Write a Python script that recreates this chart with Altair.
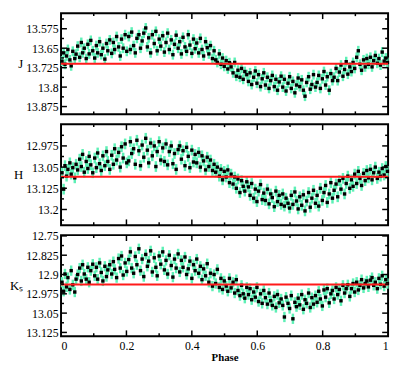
import altair as alt
import pandas as pd

# ---------------- data ----------------
phase = [
    0.003, 0.008, 0.012, 0.017, 0.021, 0.027, 0.031, 0.036, 0.042, 0.046,
    0.051, 0.057, 0.062, 0.066, 0.071, 0.077, 0.082, 0.086, 0.091, 0.097,
    0.103, 0.108, 0.112, 0.118, 0.123, 0.128, 0.134, 0.139, 0.143, 0.149,
    0.155, 0.160, 0.164, 0.170, 0.176, 0.181, 0.185, 0.190, 0.196, 0.201,
    0.207, 0.212, 0.216, 0.222, 0.227, 0.232, 0.238, 0.243, 0.248, 0.253,
    0.259, 0.264, 0.268, 0.274, 0.279, 0.285, 0.290, 0.294, 0.300, 0.305,
    0.311, 0.316, 0.321, 0.326, 0.331, 0.337, 0.342, 0.347, 0.352, 0.358,
    0.363, 0.368, 0.373, 0.379, 0.384, 0.389, 0.394, 0.400, 0.405, 0.410,
    0.415, 0.421, 0.426, 0.431, 0.436, 0.442, 0.447, 0.452, 0.457, 0.463,
    0.468, 0.473, 0.478, 0.484, 0.489, 0.494, 0.499, 0.505, 0.510, 0.515,
    0.520, 0.526, 0.531, 0.536, 0.541, 0.547, 0.552, 0.557, 0.562, 0.568,
    0.573, 0.578, 0.583, 0.589, 0.594, 0.599, 0.604, 0.610, 0.615, 0.620,
    0.625, 0.631, 0.636, 0.641, 0.646, 0.652, 0.657, 0.662, 0.667, 0.673,
    0.678, 0.683, 0.688, 0.694, 0.699, 0.704, 0.709, 0.715, 0.720, 0.725,
    0.730, 0.736, 0.741, 0.746, 0.751, 0.757, 0.762, 0.767, 0.772, 0.778,
    0.783, 0.788, 0.793, 0.799, 0.804, 0.809, 0.814, 0.820, 0.825, 0.830,
    0.835, 0.841, 0.846, 0.851, 0.856, 0.862, 0.867, 0.872, 0.877, 0.883,
    0.888, 0.893, 0.898, 0.904, 0.909, 0.914, 0.919, 0.925, 0.930, 0.935,
    0.940, 0.946, 0.951, 0.956, 0.961, 0.967, 0.972, 0.977, 0.982, 0.988,
    0.993, 0.998,
]

j_mag = [
    13.700, 13.668, 13.712, 13.680, 13.655, 13.695, 13.718, 13.662, 13.690, 13.673,
    13.642, 13.685, 13.628, 13.668, 13.650, 13.690, 13.635, 13.672, 13.620, 13.660,
    13.688, 13.640, 13.668, 13.625, 13.675, 13.650, 13.692, 13.632, 13.660, 13.618,
    13.670, 13.628, 13.655, 13.605, 13.645, 13.680, 13.615, 13.650, 13.598, 13.662,
    13.605, 13.655, 13.588, 13.640, 13.668, 13.612, 13.598, 13.650, 13.622, 13.592,
    13.572, 13.645, 13.610, 13.668, 13.598, 13.632, 13.585, 13.660, 13.615, 13.642,
    13.602, 13.665, 13.628, 13.592, 13.655, 13.618, 13.675, 13.635, 13.600, 13.650,
    13.625, 13.672, 13.608, 13.645, 13.662, 13.598, 13.638, 13.670, 13.615, 13.652,
    13.630, 13.668, 13.612, 13.655, 13.680, 13.625, 13.648, 13.672, 13.640, 13.690,
    13.660, 13.695, 13.705, 13.672, 13.712, 13.688, 13.720, 13.698, 13.730, 13.706,
    13.722, 13.745, 13.705, 13.758, 13.735, 13.762, 13.728, 13.770, 13.740, 13.752,
    13.778, 13.745, 13.790, 13.762, 13.738, 13.785, 13.752, 13.798, 13.768, 13.745,
    13.792, 13.762, 13.805, 13.775, 13.755, 13.798, 13.770, 13.812, 13.780, 13.758,
    13.800, 13.770, 13.815, 13.785, 13.760, 13.805, 13.778, 13.822, 13.792, 13.765,
    13.798, 13.772, 13.812, 13.835, 13.782, 13.760, 13.808, 13.790, 13.752, 13.800,
    13.782, 13.755, 13.805, 13.768, 13.740, 13.792, 13.760, 13.812, 13.748, 13.775,
    13.762, 13.728, 13.775, 13.742, 13.715, 13.758, 13.732, 13.702, 13.750, 13.722,
    13.740, 13.705, 13.728, 13.685, 13.660, 13.712, 13.735, 13.695, 13.722, 13.690,
    13.712, 13.685, 13.722, 13.698, 13.678, 13.708, 13.690, 13.715, 13.665, 13.700,
    13.688, 13.705,
]

h_mag = [
    13.070, 13.128, 13.045, 13.082, 13.058, 13.035, 13.075, 13.052, 13.088, 13.040,
    13.060, 13.022, 13.048, 13.005, 13.068, 13.030, 13.055, 13.012, 13.042, 13.070,
    13.018, 13.052, 13.000, 13.038, 13.062, 13.010, 13.045, 12.995, 13.030, 13.058,
    13.008, 13.040, 12.985, 13.025, 12.998, 13.050, 12.978, 13.018, 12.968, 13.035,
    13.028, 12.960, 13.002, 12.985, 13.040, 12.955, 12.992, 13.045, 12.972, 13.015,
    12.948, 12.990, 13.035, 12.965, 13.010, 12.975, 13.048, 12.995, 12.960, 13.025,
    12.982, 13.030, 12.968, 13.042, 12.995, 12.975, 13.038, 13.002, 13.058, 12.988,
    12.975, 13.022, 12.992, 13.045, 12.980, 13.012, 13.052, 12.990, 13.032, 13.005,
    13.035, 12.998, 13.050, 13.010, 13.028, 13.060, 13.015, 13.048, 13.025, 13.062,
    13.040, 13.068, 13.050, 13.082, 13.058, 13.095, 13.065, 13.085, 13.060, 13.105,
    13.075, 13.110, 13.085, 13.125, 13.092, 13.140, 13.098, 13.118, 13.135, 13.102,
    13.120, 13.150, 13.108, 13.160, 13.128, 13.172, 13.135, 13.112, 13.165, 13.142,
    13.168, 13.128, 13.180, 13.145, 13.158, 13.190, 13.135, 13.172, 13.150, 13.182,
    13.145, 13.188, 13.160, 13.178, 13.195, 13.150, 13.182, 13.138, 13.170, 13.198,
    13.155, 13.185, 13.148, 13.205, 13.170, 13.140, 13.192, 13.160, 13.132, 13.178,
    13.150, 13.188, 13.125, 13.168, 13.140, 13.115, 13.175, 13.145, 13.105, 13.160,
    13.132, 13.110, 13.155, 13.098, 13.128, 13.090, 13.145, 13.108, 13.082, 13.125,
    13.095, 13.118, 13.075, 13.108, 13.065, 13.090, 13.115, 13.072, 13.098, 13.062,
    13.088, 13.058, 13.095, 13.070, 13.050, 13.090, 13.068, 13.082, 13.055, 13.078,
    13.048, 13.065,
]

k_mag = [
    12.930, 12.965, 12.898, 12.948, 12.912, 12.958, 12.885, 12.940, 12.968, 12.918,
    12.900, 12.875, 12.925, 12.862, 12.898, 12.918, 12.872, 12.930, 12.885, 12.860,
    12.905, 12.872, 12.918, 12.855, 12.892, 12.925, 12.868, 12.908, 12.882, 12.862,
    12.898, 12.850, 12.880, 12.912, 12.838, 12.875, 12.828, 12.902, 12.855, 12.888,
    12.842, 12.812, 12.875, 12.895, 12.830, 12.862, 12.800, 12.885, 12.840, 12.908,
    12.822, 12.868, 12.848, 12.808, 12.890, 12.835, 12.872, 12.905, 12.828, 12.860,
    12.812, 12.882, 12.845, 12.898, 12.825, 12.865, 12.910, 12.840, 12.875, 12.820,
    12.890, 12.845, 12.872, 12.832, 12.900, 12.878, 12.848, 12.915, 12.862, 12.885,
    12.840, 12.895, 12.868, 12.920, 12.878, 12.905, 12.858, 12.930, 12.895, 12.945,
    12.900, 12.935, 12.880, 12.950, 12.915, 12.958, 12.925, 12.945, 12.965, 12.915,
    12.952, 12.930, 12.972, 12.920, 12.962, 12.982, 12.942, 12.975, 12.992, 12.950,
    12.978, 12.955, 12.998, 12.968, 12.988, 12.950, 13.005, 12.975, 13.012, 12.962,
    12.990, 13.015, 12.972, 13.002, 13.020, 12.985, 13.028, 12.978, 13.010, 12.995,
    13.020, 13.065, 12.988, 13.012, 13.032, 12.982, 13.072, 13.008, 13.025, 12.992,
    13.018, 12.978, 13.035, 12.998, 13.012, 12.972, 13.028, 12.990, 13.015, 12.982,
    13.008, 12.965, 12.995, 13.022, 12.960, 12.988, 12.955, 13.010, 12.975, 12.962,
    12.995, 12.950, 12.978, 12.958, 13.002, 12.942, 12.972, 12.955, 12.940, 12.985,
    12.955, 12.935, 12.968, 12.930, 12.960, 12.942, 12.920, 12.952, 12.935, 12.925,
    12.948, 12.922, 12.912, 12.942, 12.930, 12.955, 12.915, 12.938, 12.905, 12.945,
    12.920, 12.935,
]

mag_err = [0.019, 0.019, 0.02]           # J, H, Ks typical error
mean_mag = [13.710, 13.084, 12.939]      # red reference lines
band_labels = ["J", "H", "Kₛ"]
y_domains = [[13.515, 13.905], [12.898, 13.256], [12.747, 13.14]]
y_ticks = [
    [13.575, 13.65, 13.725, 13.8, 13.875],
    [12.975, 13.05, 13.125, 13.2],
    [12.75, 12.825, 12.9, 12.975, 13.05, 13.125],
]
y_minor = [
    [13.5375, 13.6125, 13.6875, 13.7625, 13.8375],
    [12.9375, 13.0125, 13.0875, 13.1625, 13.2375],
    [12.7875, 12.8625, 12.9375, 13.0125, 13.0875],
]
x_ticks = [0, 0.2, 0.4, 0.6, 0.8, 1]
x_minor = [0.1, 0.3, 0.5, 0.7, 0.9]

# ---------------- chart ----------------
W, H = 333, 103
FONT = "Liberation Serif"
ERR_COLOR = "#5ef0b6"

xscale = alt.Scale(domain=[0, 1], nice=False, zero=False)


def panel(mags, err, mean, label, dom, yt, ym, show_x):
    n = min(len(phase), len(mags))
    df = pd.DataFrame({"phase": phase[:n], "mag": mags[:n]})
    df["lo"] = df["mag"] - err
    df["hi"] = df["mag"] + err
    ys = alt.Scale(domain=dom, reverse=True, nice=False, zero=False)

    if show_x:
        xaxis = alt.Axis(values=x_ticks, tickSize=0, domain=False, grid=False,
                         labelFont=FONT, labelFontSize=12, labelColor="black",
                         labelPadding=4, title="Phase", titleFont=FONT,
                         titleFontSize=11, titleFontWeight="bold",
                         titleColor="black", titlePadding=1,
                         labelExpr="'' + datum.value")
        xtitle = "Phase"
    else:
        xaxis = alt.Axis(values=x_ticks, tickSize=0, domain=False, grid=False,
                         labels=False, title=None)
        xtitle = None
    yaxis = alt.Axis(values=yt, tickSize=0, domain=False, grid=False,
                     labelFont=FONT, labelFontSize=12, labelColor="black",
                     labelPadding=3, labelExpr="'' + datum.value",
                     title=label, titleFont=FONT, titleFontSize=13,
                     titleColor="black",
                     titleFontWeight="normal", titleAngle=0, titleAlign="right",
                     titleBaseline="middle", titlePadding=3)

    def X(field):
        return alt.X(field, scale=xscale, axis=xaxis, title=xtitle)

    def Y(field):
        return alt.Y(field, scale=ys, axis=yaxis, title=label)

    base = alt.Chart(df)
    bars = base.mark_rule(color=ERR_COLOR, strokeWidth=2.5).encode(
        x=X("phase:Q"), y=Y("lo:Q"), y2="hi:Q",
    )
    pts = base.mark_square(size=12, color="black", opacity=1).encode(
        x=X("phase:Q"), y=Y("mag:Q"),
    )
    mline = alt.Chart(pd.DataFrame({"m": [mean]})).mark_rule(
        color="#ff1a1a", strokeWidth=2).encode(y=Y("m:Q"))

    def yt_rules(vals, length):
        d = alt.Chart(pd.DataFrame({"v": vals}))
        left = d.mark_rule(color="black", strokeWidth=1.5).encode(
            y=Y("v:Q"), x=alt.value(0), x2=alt.value(length))
        right = d.mark_rule(color="black", strokeWidth=1.5).encode(
            y=Y("v:Q"), x=alt.value(W - length), x2=alt.value(W))
        return [left, right]

    def xt_rules(vals, length):
        d = alt.Chart(pd.DataFrame({"v": vals}))
        top = d.mark_rule(color="black", strokeWidth=1.5).encode(
            x=X("v:Q"), y=alt.value(0), y2=alt.value(length))
        bot = d.mark_rule(color="black", strokeWidth=1.5).encode(
            x=X("v:Q"), y=alt.value(H - length), y2=alt.value(H))
        return [top, bot]

    ticks = yt_rules(yt, 6) + yt_rules(ym, 3) + xt_rules(x_ticks[1:-1], 6) + xt_rules(x_minor, 3)
    return alt.layer(bars, pts, mline, *ticks).properties(width=W, height=H)


p1 = panel(j_mag, mag_err[0], mean_mag[0], band_labels[0], y_domains[0], y_ticks[0], y_minor[0], False)
p2 = panel(h_mag, mag_err[1], mean_mag[1], band_labels[1], y_domains[1], y_ticks[1], y_minor[1], False)
p3 = panel(k_mag, mag_err[2], mean_mag[2], band_labels[2], y_domains[2], y_ticks[2], y_minor[2], True)

chart = alt.vconcat(p1, p2, p3, spacing=10, bounds="flush").properties(
    padding={"left": 0, "top": 0, "right": 1, "bottom": 0}
).configure_view(stroke="black", strokeWidth=2)

chart.save("out.html", embed_options={"renderer": "svg", "actions": False})
